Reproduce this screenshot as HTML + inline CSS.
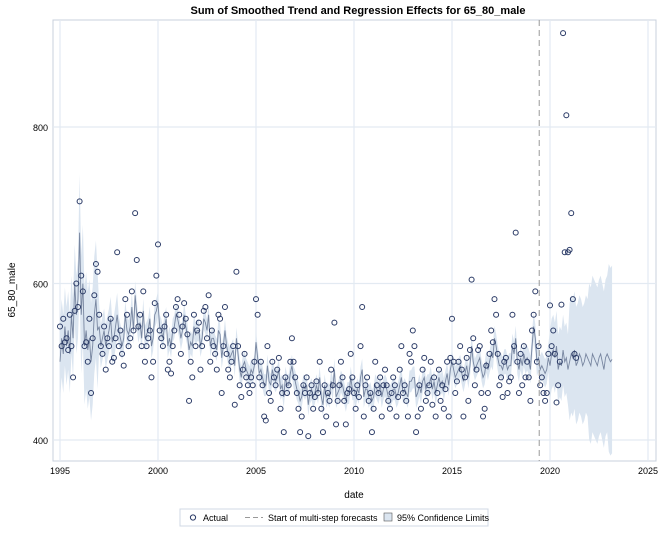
<!DOCTYPE html>
<html><head><meta charset="utf-8"><style>
body{margin:0;background:#fff;font-family:"Liberation Sans",sans-serif}
</style></head><body>
<svg id="c" width="668" height="531" xmlns="http://www.w3.org/2000/svg" font-family="Liberation Sans, sans-serif">
<text x="358" y="14" text-anchor="middle" font-size="11" font-weight="bold" fill="#000">Sum of Smoothed Trend and Regression Effects for 65_80_male</text>
<rect x="53" y="20" width="603" height="441" fill="none" stroke="#c8d0dc"/>
<g id="grid"></g><g id="band"></g><g id="trend"></g><g id="pts"></g><g id="axes"></g>
<text x="15" y="290" font-size="10" transform="rotate(-90 15 290)" text-anchor="middle">65_80_male</text>
<text x="354" y="498" font-size="10" text-anchor="middle">date</text>
<g>
<rect x="180" y="509" width="308" height="17" fill="none" stroke="#d0d8e4"/>
<circle cx="193" cy="517.5" r="2.6" fill="none" stroke="#2a3a66"/>
<text x="203" y="521" font-size="9">Actual</text>
<line x1="245" y1="517.5" x2="263" y2="517.5" stroke="#999" stroke-dasharray="5,3"/>
<text x="268" y="521" font-size="9">Start of multi-step forecasts</text>
<rect x="384" y="513" width="8" height="8" fill="#dbe5f0" stroke="#555" stroke-width="0.6"/>
<text x="397" y="521" font-size="9">95% Confidence Limits</text>
</g>
</svg>
<script>
const actual=[545,520,555,525,530,515,560,520,480,565,600,570,
705,610,590,520,525,500,555,460,530,585,625,615,
560,520,510,545,490,530,520,555,500,505,530,640,
520,540,510,495,580,560,520,530,590,540,690,630,
545,560,520,590,500,520,530,540,480,500,575,610,
650,540,530,520,545,560,490,500,485,520,540,570,
580,560,510,545,575,555,535,450,500,480,560,520,
540,550,490,520,565,570,530,585,500,540,520,510,
490,560,555,460,520,570,510,490,480,500,520,445,
615,520,470,455,490,510,480,470,460,480,470,500,
580,560,480,500,470,430,425,520,460,450,500,480,
470,490,505,440,460,410,480,460,470,500,530,500,
480,460,440,410,430,470,460,480,405,460,470,440,
455,475,460,500,440,410,470,430,460,450,490,470,
550,420,450,470,500,480,450,420,460,465,510,480,
460,440,470,455,520,570,430,470,480,450,460,410,
440,500,470,460,480,430,470,490,470,450,440,460,
480,470,430,455,490,520,460,470,450,430,510,500,
540,520,410,430,470,440,490,505,450,460,470,500,
445,480,430,460,490,450,470,440,465,500,430,505,
555,500,460,475,500,520,490,430,480,505,450,515,
605,530,470,490,515,520,460,430,440,495,460,510,
540,525,580,560,510,470,480,455,500,505,460,475,
480,560,520,665,500,460,510,470,520,480,500,480,
450,540,560,590,500,520,470,480,460,450,460,510,
572,520,540,510,448,470,500,573,920,640,815,640,
643,690,580,510,505];
const trend=[500,530,510,545,520,540,510,560,530,600,560,580,
665,560,600,520,540,515,530,500,520,560,580,540,
545,520,530,540,520,530,540,555,525,530,545,560,
540,530,520,530,560,540,535,545,570,540,585,560,
540,550,530,565,530,535,540,555,520,530,560,565,
575,545,540,530,545,555,520,530,520,540,545,560,
555,545,530,540,560,545,535,515,525,520,545,535,
540,540,520,530,555,550,540,560,520,530,530,520,
515,540,535,505,520,540,520,510,505,510,515,495,
530,510,490,480,495,500,490,485,480,490,485,495,
525,505,485,490,480,470,470,495,475,470,490,480,
475,480,490,465,470,455,480,470,470,485,495,480,
475,465,460,450,455,470,465,470,445,460,465,455,
460,470,460,480,455,445,470,455,460,455,475,465,
490,455,460,465,475,470,460,450,460,460,480,465,
465,455,465,460,480,490,455,465,465,455,460,450,
455,470,465,460,470,455,465,470,465,455,455,460,
465,465,455,460,470,480,460,465,460,455,475,475,
480,480,455,460,470,460,475,480,465,470,470,480,
465,475,460,470,480,470,475,465,475,485,470,490,
500,490,480,485,490,495,485,475,485,495,480,495,
520,500,490,495,500,505,490,480,485,500,490,500,
510,505,530,520,505,495,495,490,500,500,490,495,
495,520,510,530,500,490,505,495,510,500,505,500,
490,520,545,530,500,505,490,495,490,485,490,505,
495,510,515,505,520,490,500,495,515,500,505,490,
500,510,505,515,495,500,510,505,495,500,510,505,
500,495,510,505,500,495,505,510,500,490,505,510,
505,500,503];
const ciHalf=[50,75,28,18,16,15,15,14,14,14,14,14,14,14,14,14,14,14,14,14,14,14,16,16,18,45,75,100,120];
const yTicks=[400,600,800];
const xTicks=[1995,2000,2005,2010,2015,2020,2025];
const forecastStart=2019.45;
const startYear=1995;
const X=t=>60+(t-startYear)*19.6, Y=v=>440-(v-400)*0.7825;
const NS='http://www.w3.org/2000/svg';
function mk(p,tag,a){const e=document.createElementNS(NS,tag);for(const k in a)e.setAttribute(k,a[k]);document.getElementById(p).appendChild(e);return e;}
yTicks.forEach(v=>{
 const g=mk('grid','line',{x1:53,x2:656,y1:Y(v),y2:Y(v),stroke:'#e3eaf2','stroke-width':1.2});
 
 
 const t=mk('axes','text',{x:48,y:Y(v)+4,'text-anchor':'end','font-size':9});t.textContent=v;
 
 
});
xTicks.forEach(v=>{
 const g=mk('grid','line',{x1:X(v),x2:X(v),y1:20,y2:461,stroke:'#e3eaf2','stroke-width':1.2});
 
 
 const t=mk('axes','text',{x:X(v),y:474,'text-anchor':'middle','font-size':9});t.textContent=v;
 
 
});
let up=[],lo=[],ln=[];
trend.forEach((v,i)=>{const t=startYear+i/12,h=ciHalf[Math.floor(i/12)];up.push(X(t)+','+Y(v+h));lo.unshift(X(t)+','+Y(v-h));ln.push(X(t)+','+Y(v));});
const b=mk('band','polygon',{points:up.concat(lo).join(' '),fill:'#dbe5f0'});


const l=mk('trend','polyline',{points:ln.join(' '),fill:'none',stroke:'#7886a0','stroke-width':0.9});


actual.forEach((v,i)=>{const c=mk('pts','circle',{cx:X(startYear+i/12),cy:Y(v),r:2.5,fill:'none',stroke:'#2a3a66','stroke-width':1});
 
 });
const f=mk('axes','line',{x1:X(forecastStart),x2:X(forecastStart),y1:20,y2:461,stroke:'#999','stroke-dasharray':'6,4'});


</script>
</body></html>
